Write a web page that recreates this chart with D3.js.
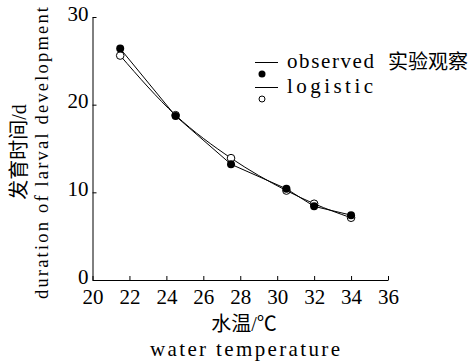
<!DOCTYPE html>
<html>
<head>
<meta charset="utf-8">
<script src="https://cdn.jsdelivr.net/npm/d3@7"></script>
<style>
  body { margin: 0; background: #fff; }
  svg { display: block; }
</style>
</head>
<body>
<div class="chart"></div>
<script>
// values
const temps = [21.5, 24.5, 27.5, 30.5, 32, 34];
const observed = [26.4, 18.7, 13.2, 10.4, 8.4, 7.4];
const logistic = [25.6, 18.8, 13.9, 10.2, 8.7, 7.1];
const xTicks = [20, 22, 24, 26, 28, 30, 32, 34, 36];
const yTicks = [0, 10, 20, 30];

const width = 475;
const height = 364;
const margin = { top: 17, bottom: 84, left: 92.5, right: 87 };

const serif = "'Liberation Serif', 'DejaVu Serif', serif";
const cjk = "'Liberation Serif', 'Noto Sans CJK SC', serif";

const svg = d3.select("div.chart")
    .append("svg")
    .attr("width", width)
    .attr("height", height);

const x = d3.scaleLinear()
    .domain([20, 36])
    .range([margin.left, width - margin.right]);

const y = d3.scaleLinear()
    .domain([0, 30])
    .range([height - margin.bottom, margin.top]);

// x axis, ticks pointing inward
const xAxis = svg.append("g")
    .attr("transform", `translate(0,${y(0)})`)
    .call(d3.axisBottom(x).tickValues(xTicks).tickSizeInner(-4).tickSizeOuter(0).tickPadding(9));
xAxis.attr("font-family", serif).attr("font-size", 21);
xAxis.selectAll("text")
    .style("font-family", serif)
    .style("font-size", "21px")
    .attr("fill", "#000");

// y axis, ticks pointing inward
const yAxis = svg.append("g")
    .attr("transform", `translate(${x(20)},0)`)
    .call(d3.axisLeft(y).tickValues(yTicks).tickSizeInner(-4).tickSizeOuter(0).tickPadding(4));
yAxis.attr("font-family", serif).attr("font-size", 21);
yAxis.selectAll("text")
    .style("font-family", serif)
    .style("font-size", "21px")
    .attr("dy", "0.15em")
    .attr("fill", "#000");

svg.selectAll(".domain, .tick line").attr("stroke", "#000").attr("stroke-width", 1);

const pts = (vals) => temps.map((t, i) => [t, vals[i]]);

const obsLine = d3.line().x(d => x(d[0])).y(d => y(d[1]));
const fitLine = d3.line().curve(d3.curveMonotoneX).x(d => x(d[0])).y(d => y(d[1]));

svg.append("path")
    .attr("d", obsLine(pts(observed)))
    .attr("fill", "none")
    .attr("stroke", "#000")
    .attr("stroke-width", 1);

svg.append("path")
    .attr("d", fitLine(pts(logistic)))
    .attr("fill", "none")
    .attr("stroke", "#000")
    .attr("stroke-width", 1);

svg.append("g")
    .selectAll("circle")
    .data(pts(logistic))
    .join("circle")
    .attr("cx", d => x(d[0]))
    .attr("cy", d => y(d[1]))
    .attr("r", 3.8)
    .attr("fill", "#fff")
    .attr("stroke", "#000")
    .attr("stroke-width", 1);

svg.append("g")
    .selectAll("circle")
    .data(pts(observed))
    .join("circle")
    .attr("cx", d => x(d[0]))
    .attr("cy", d => y(d[1]))
    .attr("r", 4)
    .attr("fill", "#000");

// legend
const legend = svg.append("g");
legend.append("line")
    .attr("x1", 255).attr("x2", 278).attr("y1", 62.5).attr("y2", 62.5)
    .attr("stroke", "#000");
legend.append("circle")
    .attr("cx", 262).attr("cy", 74).attr("r", 3.5).attr("fill", "#000");
legend.append("line")
    .attr("x1", 255).attr("x2", 278).attr("y1", 87.5).attr("y2", 87.5)
    .attr("stroke", "#000");
legend.append("circle")
    .attr("cx", 262).attr("cy", 99).attr("r", 3).attr("fill", "#fff").attr("stroke", "#000");
legend.append("text")
    .attr("x", 287).attr("y", 68)
    .attr("font-family", serif).attr("font-size", 21)
    .attr("textLength", 87).attr("lengthAdjust", "spacing")
    .text("observed");
legend.append("text")
    .attr("x", 388).attr("y", 69)
    .attr("font-family", cjk).attr("font-size", 20)
    .text("实验观察");
legend.append("text")
    .attr("x", 287).attr("y", 93)
    .attr("font-family", serif).attr("font-size", 21)
    .attr("textLength", 86).attr("lengthAdjust", "spacing")
    .text("logistic");

// axis titles
svg.append("text")
    .attr("x", 244).attr("y", 331)
    .attr("text-anchor", "middle")
    .attr("font-family", cjk).attr("font-size", 20)
    .text("水温/℃");
svg.append("text")
    .attr("x", 245).attr("y", 356)
    .attr("text-anchor", "middle")
    .attr("font-family", serif).attr("font-size", 21)
    .attr("textLength", 190).attr("lengthAdjust", "spacing")
    .text("water temperature");

svg.append("text")
    .attr("transform", "translate(26,152) rotate(-90)")
    .attr("text-anchor", "middle")
    .attr("font-family", cjk).attr("font-size", 20)
    .text("发育时间/d");
svg.append("text")
    .attr("transform", "translate(48,153) rotate(-90)")
    .attr("text-anchor", "middle")
    .attr("font-family", serif).attr("font-size", 18.5)
    .attr("textLength", 292).attr("lengthAdjust", "spacing")
    .text("duration of larval development");
</script>
</body>
</html>
